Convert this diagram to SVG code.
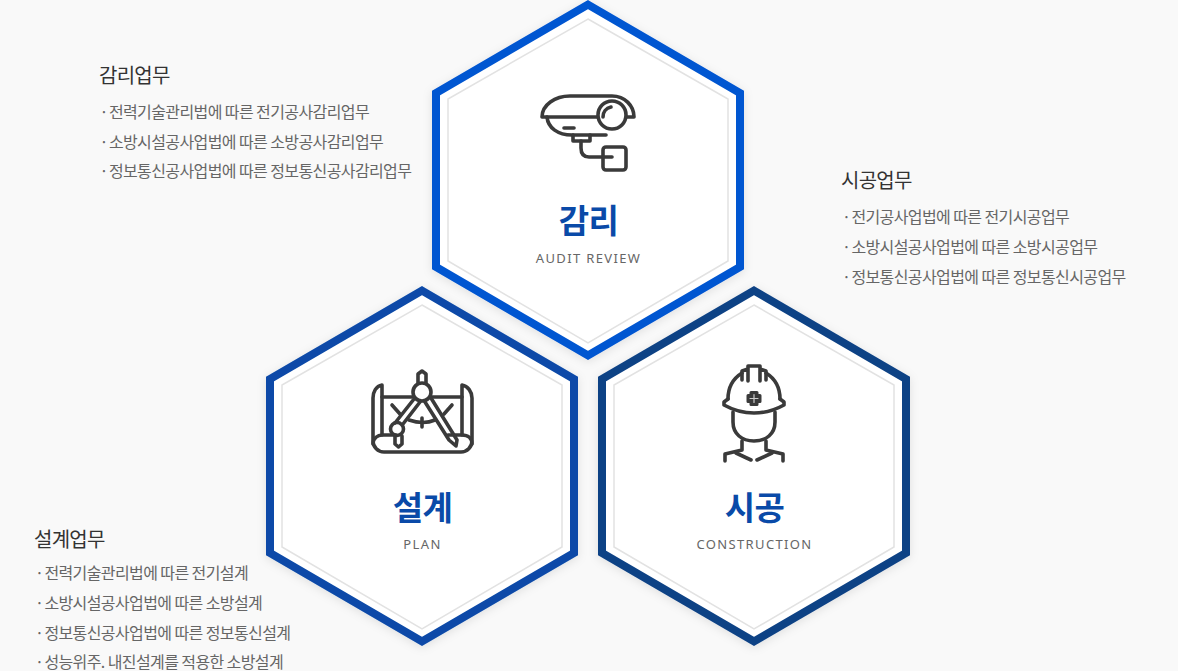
<svg xmlns="http://www.w3.org/2000/svg" width="1178" height="671" viewBox="0 0 1178 671">
<style>
.k{font-family:"Noto Sans CJK KR","Noto Sans",sans-serif}
.title{font-size:20px;fill:#333;letter-spacing:-.75px}
.li{font-size:16px;fill:#666;letter-spacing:-.6px}
.name{font-size:33px;font-weight:700;fill:#0a4aa8;text-anchor:middle;letter-spacing:-.5px}
.sub{font-family:"Noto Sans",sans-serif;font-size:13px;fill:#666;text-anchor:middle;letter-spacing:1.35px}
.ic{fill:none;stroke:#3a3a3a;stroke-width:3.6;stroke-linecap:round;stroke-linejoin:round}
.inner{fill:#fff;stroke:#e2e2e2;stroke-width:1.5}
</style>
<defs>
<filter id="sh" x="-10%" y="-10%" width="120%" height="120%"><feDropShadow dx="0" dy="2" stdDeviation="5" flood-color="#000" flood-opacity=".1"/></filter>
<polygon id="hexo" points="588,4.600 740,93 740,267 588,355.400 436,267 436,93"/>
<polygon id="hexi" points="588,19 728,99 728,261 588,343 448,261 448,99"/>
</defs>
<rect width="1178" height="671" fill="#f9f9f9"/>
<g id="connectors"/>
<g id="node-audit">
<use href="#hexo" fill="#fff" stroke="#0156d1" stroke-width="8" filter="url(#sh)"/>
<use href="#hexi" class="inner"/>
<g class="ic">
<path d="M542 117C542 105 555 96 570 96H612C625 96 634 106 634 117Z"/>
<path d="M547 117C548 128 558 135 572 135H606"/>
<circle cx="612" cy="115" r="14" fill="#fff"/>
<path d="M603 117C603 112 606 108 611 107"/>
<path d="M564 128H574"/>
<path d="M573 135V141H590V135"/>
<path d="M581 141V148C581 154 584 157 589 157H612"/>
<rect x="603" y="147" width="23" height="23" rx="3"/>
</g>
<text class="k name" x="588.500" y="233">감리</text>
<text class="sub" x="588.500" y="263">AUDIT REVIEW</text>
</g>
<g id="node-plan">
<use href="#hexo" x="-166" y="286" fill="#fff" stroke="#0a4aa8" stroke-width="8" filter="url(#sh)"/>
<use href="#hexi" x="-166" y="286" class="inner"/>
<g class="ic">
<path d="M382 435V385C376 386 373 392 373 398V441C373 447 378 452 384 452H461C467 452 472 447 472 441V398C472 392 468 386 462 385V435"/>
<path d="M373 444C373 438 378 435 382 435H396M448 435H462C468 435 472 438 472 444"/>
<path d="M382 397H412M432 397H462"/>
<circle cx="422" cy="392" r="9"/>
<path d="M418 383V374L422 371L426 374V383"/>
<path d="M414 399L395 423M420 402L403 424M431 398L457 440L456 446L449 440L425 402"/>
<circle cx="397" cy="429" r="6.500"/>
<path d="M395 436V444L398.500 447L402 444V436"/>
<path d="M392 405L400 414M409 420C418 423 428 423 435 420M444 414L452 405"/>
<path d="M422 418V427"/>
</g>
<text class="k name" x="422.500" y="520">설계</text>
<text class="sub" x="422.500" y="549">PLAN</text>
</g>
<g id="node-construction">
<use href="#hexo" x="166" y="286" fill="#fff" stroke="#0e4285" stroke-width="8" filter="url(#sh)"/>
<use href="#hexi" x="166" y="286" class="inner"/>
<g class="ic">
<path d="M728 399C728 387 734 378 742 373M780 399C780 387 774 378 766 373"/>
<path d="M742 380V371L748 369V381M748 369V366H760V369L766 371V380M760 369V381"/>
<path d="M728 399L724 402V405C733 410 744 413 754 413C764 413 775 410 784 405V402L780 399"/>
<path d="M733 412V422C733 434 742 441 754 441C766 441 775 434 775 422V412"/>
<path d="M742 441V450L725 454V461M766 441V450L783 454V461"/>
<path d="M736 453L751 460M772 453L757 460"/>
<path d="M751 392.500H757V395.500H760V401.500H757V404.500H751V401.500H748V395.500H751Z" fill="#3a3a3a" stroke-width="3"/>
<path d="M754 394.500V402.500M750 398.500H758" stroke="#ccc" stroke-width="1.200"/>
</g>
<text class="k name" x="754.500" y="520">시공</text>
<text class="sub" x="754.500" y="549">CONSTRUCTION</text>
</g>
<g id="text-audit">
<text class="k title" x="99" y="83">감리업무</text>
<text class="k li" x="99.500" y="118">· <tspan dx="-2">전력기술관리법에 따른 전기공사감리업무</tspan></text>
<text class="k li" x="99.500" y="148">· <tspan dx="-2">소방시설공사업법에 따른 소방공사감리업무</tspan></text>
<text class="k li" x="99.500" y="177">· <tspan dx="-2">정보통신공사업법에 따른 정보통신공사감리업무</tspan></text>
</g>
<g id="text-construction">
<text class="k title" x="841" y="188">시공업무</text>
<text class="k li" x="842" y="223">· <tspan dx="-2">전기공사업법에 따른 전기시공업무</tspan></text>
<text class="k li" x="842" y="253">· <tspan dx="-2">소방시설공사업법에 따른 소방시공업무</tspan></text>
<text class="k li" x="842" y="283">· <tspan dx="-2">정보통신공사업법에 따른 정보통신시공업무</tspan></text>
</g>
<g id="text-plan">
<text class="k title" x="34" y="547">설계업무</text>
<text class="k li" x="35" y="579">· <tspan dx="-2">전력기술관리법에 따른 전기설계</tspan></text>
<text class="k li" x="35" y="609">· <tspan dx="-2">소방시설공사업법에 따른 소방설계</tspan></text>
<text class="k li" x="35" y="639">· <tspan dx="-2">정보통신공사업법에 따른 정보통신설계</tspan></text>
<text class="k li" x="35" y="668">· <tspan dx="-2">성능위주. 내진설계를 적용한 소방설계</tspan></text>
</g>
</svg>
